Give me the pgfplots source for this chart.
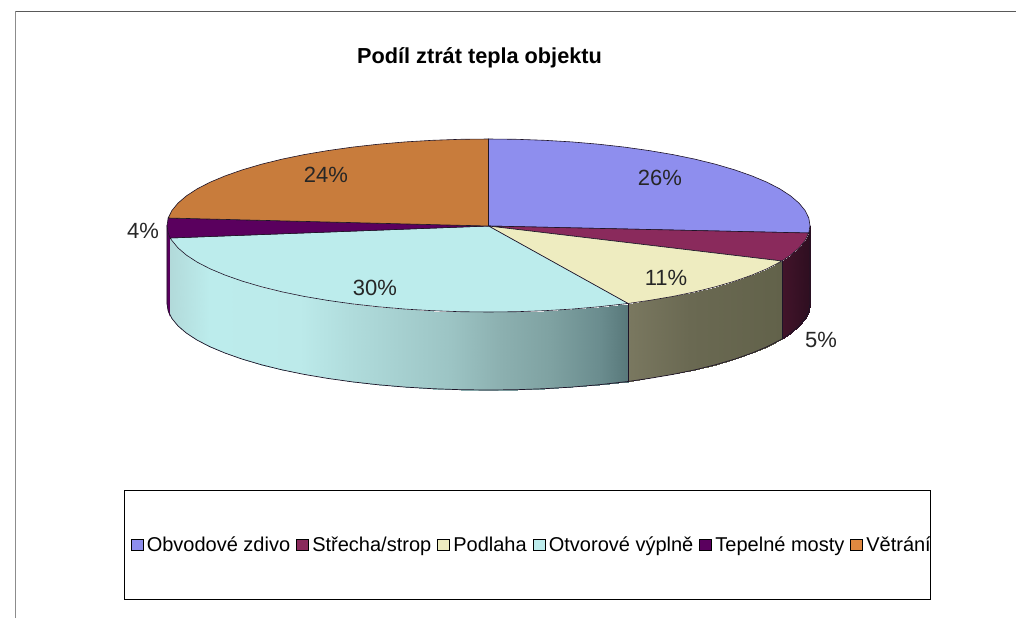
\documentclass[border=0pt]{standalone}
\usepackage{fontspec}
\setmainfont{Liberation Sans}
\usepackage{pgfplots}
\pgfplotsset{compat=1.18}
\definecolor{cA}{RGB}{142,142,238}
\definecolor{cB}{RGB}{138,42,92}
\definecolor{cC}{RGB}{238,236,192}
\definecolor{cD}{RGB}{188,236,236}
\definecolor{cE}{RGB}{90,0,94}
\definecolor{cF}{RGB}{200,124,60}
\definecolor{cFl}{RGB}{224,136,64}
\definecolor{edge}{RGB}{30,20,40}
\pgfplotsset{
  colormap={sideD}{rgb255(0pt)=(176,214,214) rgb255(170pt)=(178,218,218) rgb255(210pt)=(188,236,236) rgb255(300pt)=(188,234,234) rgb255(350pt)=(176,220,220) rgb255(450pt)=(156,196,196) rgb255(500pt)=(140,176,176) rgb255(550pt)=(127,162,162) rgb255(600pt)=(106,140,142) rgb255(628pt)=(88,120,122) rgb255(1016pt)=(88,120,122)},
  colormap={sideC}{rgb255(0pt)=(122,120,96) rgb255(628pt)=(122,120,96) rgb255(690pt)=(106,105,82) rgb255(782pt)=(98,98,74) rgb255(1016pt)=(98,98,74)},
  colormap={sideB}{rgb255(0pt)=(66,20,42) rgb255(782pt)=(66,20,42) rgb255(810pt)=(46,14,32) rgb255(1016pt)=(46,14,32)},
}
\begin{document}
\begin{tikzpicture}
\begin{axis}[
  scale only axis, width=1016pt, height=618pt,
  xmin=0, xmax=1016, ymin=0, ymax=618, y dir=reverse,
  hide axis,
  point meta min=0, point meta max=1016,
  legend columns=6,
  legend cell align=left,
  legend style={at={(axis cs:527.5,545)}, anchor=center, draw=black, line width=0.9pt,
    font=\fontsize{20}{23}\selectfont, inner xsep=6pt, inner ysep=45pt,
    /tikz/every even column/.append style={column sep=5pt},
    /tikz/every odd column/.append style={column sep=2pt},
    nodes={inner xsep=1pt, inner ysep=1pt}},
  legend image code/.code={\draw[#1] (0pt,-5.5pt) rectangle (12pt,5.5pt);},
]
% legend entries
\addlegendimage{fill=cA, draw=black, line width=1.1pt}
\addlegendentry{Obvodové zdivo}
\addlegendimage{fill=cB, draw=black, line width=1.1pt}
\addlegendentry{Střecha/strop}
\addlegendimage{fill=cC, draw=black, line width=1.1pt}
\addlegendentry{Podlaha}
\addlegendimage{fill=cD, draw=black, line width=1.1pt}
\addlegendentry{Otvorové výplně}
\addlegendimage{fill=cE, draw=black, line width=1.1pt}
\addlegendentry{Tepelné mosty}
\addlegendimage{fill=cFl, draw=none}
\addlegendentry{\makebox[57pt][l]{Větrání}}
% background and frame
\addplot[forget plot, fill=white, draw=none] coordinates {(0,0) (1016,0) (1016,618) (0,618)} \closedcycle;
\addplot[forget plot, color=black!45, line width=1pt] coordinates {(15.5,618) (15.5,11.5)};
\addplot[forget plot, color=black!65, line width=1.2pt] coordinates {(15.5,11.5) (1016,11.5)};
% sides
\addplot[forget plot, fill=cE, draw=cE] coordinates {(170,238) (168.2,233) (167,225.5) (167,303.5) (168.2,311) (170,316)} --cycle;
\addplot[forget plot, surf, shader=interp, colormap name=sideB, mesh/rows=2, point meta=x] table {
x y
810 225.5
808.8 233
805.1 240.5
799 247.9
790.6 255.1
782 261
810 303.5
808.8 311
805.1 318.5
799 325.9
790.6 333.1
782 339
};
\addplot[forget plot, surf, shader=interp, colormap name=sideC, mesh/rows=2, point meta=x] table {
x y
782 261
766.9 268.8
751.9 275.1
734.8 281.1
715.8 286.7
695.2 291.8
672.9 296.4
649.3 300.4
628 303.5
782 339
766.9 346.8
751.9 353.1
734.8 359.1
715.8 364.7
695.2 369.8
672.9 374.4
649.3 378.4
628 381.5
};
\addplot[forget plot, surf, shader=interp, colormap name=sideD, mesh/rows=2, point meta=x] table {
x y
628 303.5
598.5 306.8
571.7 309.1
544.3 310.7
516.5 311.7
488.5 312
460.5 311.7
432.7 310.7
405.3 309.1
378.5 306.8
352.6 303.9
327.7 300.4
304.1 296.4
281.8 291.8
261.2 286.7
242.2 281.1
225.1 275.1
210.1 268.8
197.1 262.1
186.4 255.1
178 247.9
171.9 240.5
170 238
628 381.5
598.5 384.8
571.7 387.1
544.3 388.7
516.5 389.7
488.5 390
460.5 389.7
432.7 388.7
405.3 387.1
378.5 384.8
352.6 381.9
327.7 378.4
304.1 374.4
281.8 369.8
261.2 364.7
242.2 359.1
225.1 353.1
210.1 346.8
197.1 340.1
186.4 333.1
178 325.9
171.9 318.5
170 316
};
% side outlines
\addplot[forget plot, edge, line width=0.7pt] coordinates {(167,225.5) (167,303.5) (168.2,311) (171.9,318.5) (178,325.9) (186.4,333.1) (197.1,340.1) (210.1,346.8) (225.1,353.1) (242.2,359.1) (261.2,364.7) (281.8,369.8) (304.1,374.4) (327.7,378.4) (352.6,381.9) (378.5,384.8) (405.3,387.1) (432.7,388.7) (460.5,389.7) (488.5,390) (516.5,389.7) (544.3,388.7) (571.7,387.1) (598.5,384.8) (628,381.5) (649.3,378.4) (672.9,374.4) (695.2,369.8) (715.8,364.7) (734.8,359.1) (751.9,353.1) (766.9,346.8) (782,339) (790.6,333.1) (799,325.9) (805.1,318.5) (808.8,311) (810,303.5) (810,225.5)};
\addplot[forget plot, edge, line width=0.7pt] coordinates {(628,303.5) (628,381.5)};
\addplot[forget plot, edge, line width=0.7pt] coordinates {(782,261) (782,339)};
% top: slices
\addplot[forget plot, fill=cA, draw=edge, line width=0.6pt] coordinates {(488.5,226) (488.5,139) (516.5,139.3) (544.3,140.3) (571.7,141.9) (598.5,144.2) (624.4,147.1) (649.3,150.6) (672.9,154.6) (695.2,159.2) (715.8,164.3) (734.8,169.9) (751.9,175.9) (766.9,182.2) (779.9,188.9) (790.6,195.9) (799,203.1) (805.1,210.5) (808.8,218) (810,225.5) (808.8,233)} --cycle;
\addplot[forget plot, fill=cB, draw=edge, line width=0.6pt] coordinates {(488.5,226) (808.8,233) (805.1,240.5) (799,247.9) (790.6,255.1) (782,261)} --cycle;
\addplot[forget plot, fill=cC, draw=edge, line width=0.6pt] coordinates {(488.5,226) (782,261) (766.9,268.8) (751.9,275.1) (734.8,281.1) (715.8,286.7) (695.2,291.8) (672.9,296.4) (649.3,300.4) (628,303.5)} --cycle;
\addplot[forget plot, fill=cD, draw=edge, line width=0.6pt] coordinates {(488.5,226) (628,303.5) (598.5,306.8) (571.7,309.1) (544.3,310.7) (516.5,311.7) (488.5,312) (460.5,311.7) (432.7,310.7) (405.3,309.1) (378.5,306.8) (352.6,303.9) (327.7,300.4) (304.1,296.4) (281.8,291.8) (261.2,286.7) (242.2,281.1) (225.1,275.1) (210.1,268.8) (197.1,262.1) (186.4,255.1) (178,247.9) (171.9,240.5) (170,238)} --cycle;
\addplot[forget plot, fill=cE, draw=edge, line width=0.6pt] coordinates {(488.5,226) (170,238) (168.2,233) (167,225.5) (168.2,218)} --cycle;
\addplot[forget plot, fill=cF, draw=edge, line width=0.6pt] coordinates {(488.5,226) (168.2,218) (171.9,210.5) (178,203.1) (186.4,195.9) (197.1,188.9) (210.1,182.2) (225.1,175.9) (242.2,169.9) (261.2,164.3) (281.8,159.2) (304.1,154.6) (327.7,150.6) (352.6,147.1) (378.5,144.2) (405.3,141.9) (432.7,140.3) (460.5,139.3) (488.5,139)} --cycle;
% texts
\node[font=\fontsize{21.7}{25}\selectfont\bfseries, anchor=center] at (axis cs:479.5,58) {Podíl ztrát tepla objektu};
\begin{scope}[every node/.style={font=\fontsize{22}{25}\selectfont, text=black!85}]
\node at (axis cs:660,178) {26\%};
\node at (axis cs:326,175) {24\%};
\node at (axis cs:143,231) {4\%};
\node at (axis cs:375,288) {30\%};
\node at (axis cs:666,278) {11\%};
\node at (axis cs:821,340) {5\%};
\end{scope}
\end{axis}
\end{tikzpicture}
\end{document}
